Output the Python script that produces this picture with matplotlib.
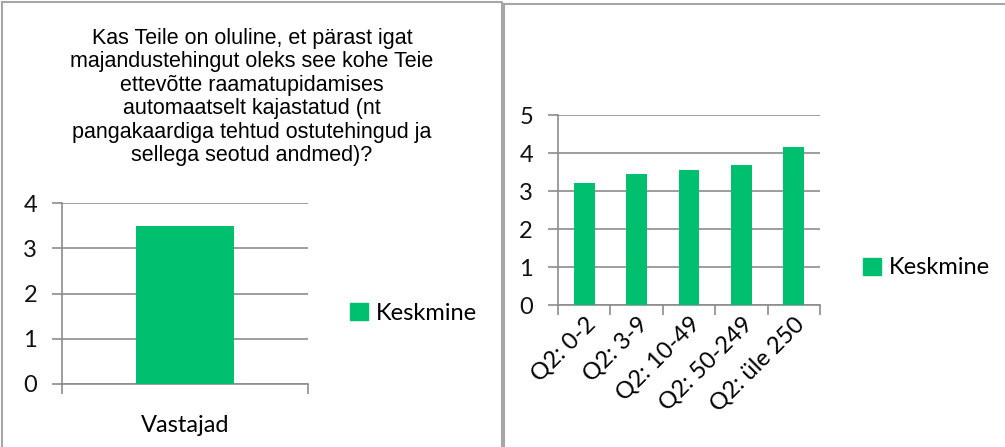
import matplotlib
matplotlib.use("Agg")
import matplotlib.pyplot as plt
from matplotlib.lines import Line2D

# --- data ---
title_left = ("Kas Teile on oluline, et pärast igat\n"
              "majandustehingut oleks see kohe Teie\n"
              "ettevõtte raamatupidamises\n"
              "automaatselt kajastatud (nt\n"
              "pangakaardiga tehtud ostutehingud ja\n"
              "sellega seotud andmed)?")
cat_left = ["Vastajad"]
val_left = [3.5]

cat_right = ["Q2: 0-2", "Q2: 3-9", "Q2: 10-49", "Q2: 50-249", "Q2: üle 250"]
val_right = [3.2, 3.45, 3.55, 3.68, 4.17]

series_name = "Keskmine"
green = "#00C070"
gridc = "#8c8c8c"
framec = "#a6a6a6"
fs = 17

W, H = 1005, 447
fig = plt.figure(figsize=(W / 100, H / 100), dpi=100)
plt.rcParams['font.family'] = ['Lato', 'DejaVu Sans']


def px_axes(x0, y0, x1, y1):
    # pixel box (top-left origin) -> figure axes
    return fig.add_axes([x0 / W, 1 - y1 / H, (x1 - x0) / W, (y1 - y0) / H])


def style(ax, cats, vals, ymax):
    n = len(cats)
    ax.bar(range(n), vals, width=0.4, color=green, zorder=3)
    ax.set_xlim(-0.5, n - 0.5)
    ax.set_ylim(0, ymax)
    ax.set_yticks(range(ymax + 1))
    ax.yaxis.grid(True, color=gridc, linewidth=1.2, zorder=0)
    for s in ["top", "right"]:
        ax.spines[s].set_visible(False)
    for s in ["left", "bottom"]:
        ax.spines[s].set_color(gridc)
        ax.spines[s].set_linewidth(1.2)
    ax.tick_params(axis="y", length=7, width=1.2, color=gridc, labelsize=fs,
                   pad=11, labelcolor="#111111")
    ax.set_xticks([i - 0.5 for i in range(n + 1)], minor=True)
    ax.tick_params(axis="x", which="minor", length=7, width=1.2, color=gridc)
    ax.set_xticks(range(n))


def legend(ax, x, y):
    ax.legend([plt.Rectangle((0, 0), 1, 1, color=green)], [series_name],
              loc="center left", bbox_to_anchor=(x / W, 1 - y / H),
              bbox_transform=fig.transFigure, frameon=False, fontsize=fs,
              handlelength=0.75, handleheight=0.75, handletextpad=0.35,
              borderpad=0, borderaxespad=0)


# --- left chart ---
axl = px_axes(62, 203, 308, 384)
style(axl, cat_left, val_left, 4)
axl.set_xticklabels(cat_left, fontsize=fs)
axl.tick_params(axis="x", which="major", length=0, pad=22)
legend(axl, 350, 313)
fig.text(252 / W, 1 - 97 / H, title_left, ha="center", va="center",
         fontsize=15.5, family="Liberation Sans", linespacing=1.16)

# --- right chart ---
axr = px_axes(558, 115, 820, 305)
style(axr, cat_right, val_right, 5)
axr.set_xticklabels(cat_right, fontsize=fs, rotation=45, ha="right",
                    rotation_mode="anchor")
axr.tick_params(axis="x", which="major", length=0, pad=6)
legend(axr, 863, 268)

# --- panel frames ---
def fline(xs, ys):
    fig.add_artist(Line2D([x / W for x in xs], [1 - y / H for y in ys],
                          color=framec, linewidth=1.5))

fline([2, 502, 502], [2, 2, 447])
fline([2, 2], [2, 447])
fline([504, 1005], [4, 4])
fline([504, 504], [4, 447])

fig.savefig("out.png", dpi=100)
